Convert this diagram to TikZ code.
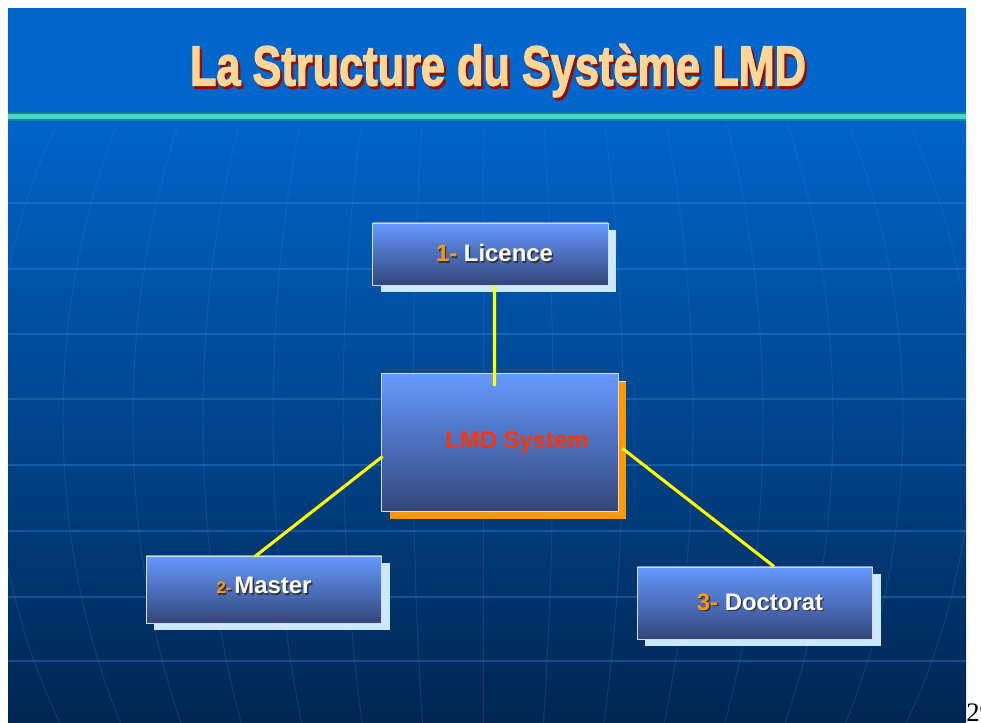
\documentclass[tikz,border=0pt]{standalone}
\usepackage{fontspec}
\setmainfont{Liberation Sans}
\newfontfamily\pagefont{Liberation Serif}
\newfontfamily\titlefont{Liberation Sans}[BoldFeatures={FakeBold=2.5}]
\usetikzlibrary{shadows}

\definecolor{slidetop}{RGB}{0,100,200}
\definecolor{slidebot}{RGB}{0,38,82}
\definecolor{bandblue}{RGB}{0,102,204}
\definecolor{boxtop}{RGB}{102,153,255}
\definecolor{boxbot}{RGB}{51,70,122}
\definecolor{numorange}{RGB}{255,153,0}
\definecolor{lmdred}{RGB}{255,51,0}
\definecolor{paleshadow}{RGB}{204,232,250}
\definecolor{linkyellow}{RGB}{255,255,0}
\definecolor{titlecream}{RGB}{255,214,150}
\definecolor{titleshadow}{RGB}{150,10,0}
\definecolor{tealline}{RGB}{70,215,205}
\definecolor{tealdark}{RGB}{25,130,140}
\definecolor{gridblue}{RGB}{60,140,235}

% text with a drop shadow: fg, shadow colour, offset, text
\newcommand\shtext[4]{\rlap{\kern#3\raisebox{-#3}{\color{#2}#4}}{\color{#1}#4}}

\begin{document}
\begin{tikzpicture}[x=0.025cm,y=-0.025cm]

\tikzset{
  levelbox/.style={draw=white!85!blue, line width=0.7pt, inner sep=0pt,
    top color=boxtop, bottom color=boxbot, minimum width=5.875cm,
    font=\bfseries,
    drop shadow={shadow xshift=0.2cm, shadow yshift=-0.18cm, fill=paleshadow, opacity=1}},
  centerbox/.style={levelbox, minimum width=5.9cm, minimum height=3.425cm,
    drop shadow={shadow xshift=0.2cm, shadow yshift=-0.2cm, fill=numorange, opacity=1}},
  link/.style={linkyellow, line width=2.2pt},
  gridline/.style={gridblue, line width=0.8pt, opacity=0.35},
  meridian/.style={gridblue, line width=0.7pt, opacity=0.2}
}

\useasboundingbox (0,0) rectangle (981,723);
\fill[white] (0,0) rectangle (981,723);

% slide background
\fill[bandblue] (8,8) rectangle (966,121);
\shade[top color=slidetop, bottom color=slidebot] (8,121) rectangle (966,723);

% globe grid
\begin{scope}
  \clip (8,125) rectangle (966,723);
  \foreach \y in {203,269,334,399,465,531,597,661}
    \draw[gridline] (8,\y) -- (966,\y);
  \draw[meridian] (483,125) -- (483,723);
  \foreach \a in {70,140,...,560}
    \draw[meridian] (483,420) ellipse [x radius=\a, y radius=600];
\end{scope}

% teal rule under the title
\fill[tealdark] (8,112) rectangle (966,121);
\fill[tealline] (8,114) rectangle (966,119);

\node (title) at (498,72) {\titlefont\fontsize{40}{40}\selectfont\bfseries
  \scalebox{0.77}[1]{\shtext{titlecream}{titleshadow}{2pt}{La Structure du Système LMD}}};

% the four boxes
\node[levelbox, minimum height=1.55cm] (licence) at (490.5,254)
  {\hspace*{0.2cm}\fontsize{17}{20}\selectfont\shtext{numorange}{black!80}{1pt}{1-} \shtext{white}{black!80}{1pt}{Licence}};
\node[centerbox] (lmd) at (500,442.5)
  {\raisebox{-0.17cm}{\fontsize{17}{20}\selectfont\hspace*{0.85cm}\textcolor{lmdred}{LMD System}}};
\node[levelbox, minimum height=1.675cm] (master) at (264,589.5)
  {\raisebox{0.2cm}{\fontsize{12}{14}\selectfont\shtext{numorange}{black!80}{1pt}{2-}\,\fontsize{17}{20}\selectfont\shtext{white}{black!80}{1pt}{Master}}};
\node[levelbox, minimum height=1.8cm] (doctorat) at (755,603)
  {\hspace*{0.25cm}\fontsize{17}{20}\selectfont\shtext{numorange}{black!80}{1pt}{3-} \shtext{white}{black!80}{1pt}{Doctorat}};

% connectors
\draw[link, shorten >=-9] ([shift={(4,0)}]licence.south) -- ([shift={(-5.5,0)}]lmd.north);
\draw[link] ([shift={(1,14)}]lmd.west) -- ([shift={(-9,1)}]master.north);
\draw[link] ([shift={(4,6)}]lmd.east) -- ([shift={(19,0)}]doctorat.north);

% page number
\node[anchor=base west, inner sep=0pt, font=\pagefont\fontsize{19}{20}\selectfont] (pagenum) at (966,721) {29};

\end{tikzpicture}
\end{document}
